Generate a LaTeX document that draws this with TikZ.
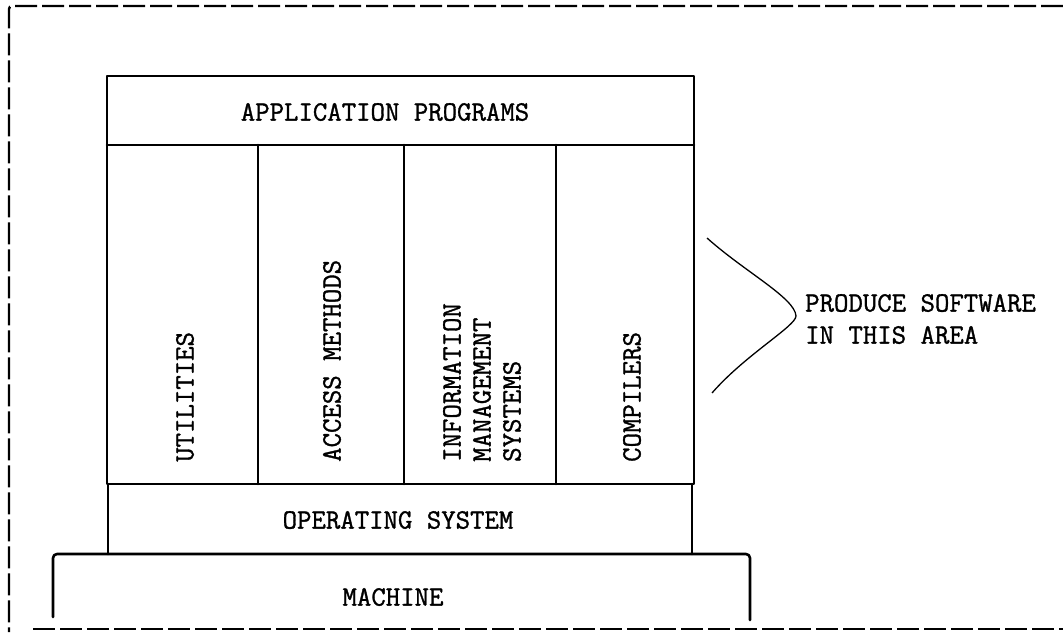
\documentclass[tikz,border=0pt]{standalone}
\usepackage{fontspec}
\newfontfamily\tw{Latin Modern Mono}[FakeBold=1.2]
\begin{document}
\begin{tikzpicture}[x=1pt,y=-1pt,
  frame/.style={line width=2.6pt, line join=round, line cap=round},
  border/.style={line width=2.4pt, dash pattern=on 22pt off 5pt},
  lbl/.style={font=\tw\fontsize{28}{30}\selectfont, inner sep=0pt},
  vlbl/.style={lbl, rotate=90, anchor=west, align=left},
  note/.style={font=\tw\fontsize{28}{32}\selectfont, inner sep=0pt, align=left, anchor=west}]
\useasboundingbox (0,0) rectangle (1063,632);
% outer dashed border
\draw[border, rounded corners=3pt] (1063,6) -- (9,6) -- (9,632);
\draw[border] (33,629) -- (1063,629);
% upper stack
\draw[frame] (107,76) rectangle (694,484);
\draw[frame] (107,145) -- (694,145);
\draw[frame] (258,145) -- (258,484);
\draw[frame] (404,145) -- (404,484);
\draw[frame] (556,145) -- (556,484);
% operating system box
\draw[frame] (108,484) -- (108,554);
\draw[frame] (692,484) -- (692,554);
% machine box (open at bottom)
\draw[frame, rounded corners=4pt] (53,617) -- (53,554) -- (750,554) -- (750,620);
% labels
\node[lbl] (app) at (385,112) {APPLICATION PROGRAMS};
\node[vlbl] (util) at (185,462) {UTILITIES};
\node[vlbl] (acc) at (332,462) {ACCESS METHODS};
\node[vlbl] (ims) at (482,462) {INFORMATION\\MANAGEMENT\\SYSTEMS};
\node[vlbl] (comp) at (632,462) {COMPILERS};
\node[lbl] (os) at (398,520) {OPERATING SYSTEM};
\node[lbl] (mach) at (393,597) {MACHINE};
% side note with bracket
\node[note] (prod) at (805,319) {PRODUCE SOFTWARE\\IN THIS AREA};
\coordinate (btop) at (707,238);
\coordinate (btip) at (796,316);
\coordinate (bbot) at (712,393);
\draw[line width=1.3pt] (btop) .. controls (745,272) and (795,298) .. (btip)
  .. controls (796,326) and (745,355) .. (bbot);
\end{tikzpicture}
\end{document}
